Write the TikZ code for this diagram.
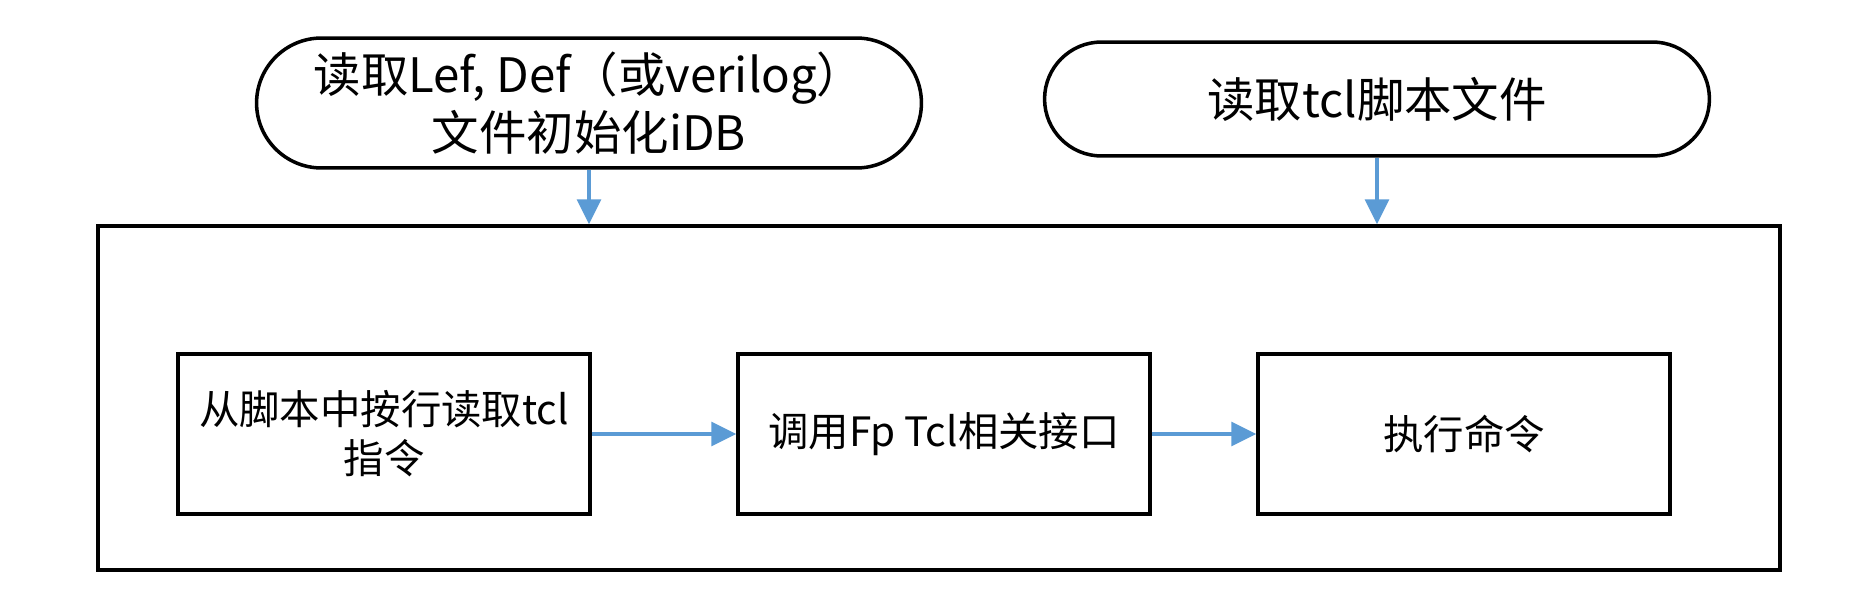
\documentclass[tikz,border=0pt]{standalone}
\usepackage{fontspec}
\setmainfont{Noto Sans CJK SC}
\usetikzlibrary{arrows.meta}
\definecolor{linkblue}{RGB}{91,155,213}
\tikzset{terminal/.style={draw,line width=2pt,align=center,minimum width=13.3cm,
        font=\fontsize{27}{33}\selectfont},
        stepbox/.style={draw,line width=2pt,align=center,minimum width=8.24cm,
        minimum height=3.2cm,font=\fontsize{23}{28}\selectfont},
        frame/.style={draw,line width=2pt,minimum width=33.64cm,minimum height=6.88cm},
        link/.style={draw=linkblue,line width=1.9pt,
        -{Triangle[length=0.5cm,width=0.48cm]}}}

\begin{document}
\begin{tikzpicture}[x=0.02cm,y=-0.02cm]
  \useasboundingbox (0,0) rectangle (1873,605);
  %% inputs
  \node[terminal,minimum height=2.6cm,rounded corners=1.3cm] (readdb) at (589,103)
       {读取Lef, Def（或verilog）\\文件初始化iDB};
  \node[terminal,minimum height=2.28cm,rounded corners=1.14cm] (readtcl) at (1377,99)
       {读取tcl脚本文件};
  %% outer frame
  \node[frame] (flow) at (939,398) {};
  %% steps
  \node[stepbox] (fetch) at (384,434) {从脚本中按行读取tcl\\指令};
  \node[stepbox] (call)  at (944,434) {调用Fp Tcl相关接口};
  \node[stepbox] (exec)  at (1464,434) {执行命令};
  %% arrows
  \draw[link] (readdb)  -- (readdb |- flow.north);
  \draw[link] (readtcl) -- (readtcl |- flow.north);
  \draw[link] (fetch) -- (call);
  \draw[link] (call)  -- (exec);
\end{tikzpicture}
\end{document}
